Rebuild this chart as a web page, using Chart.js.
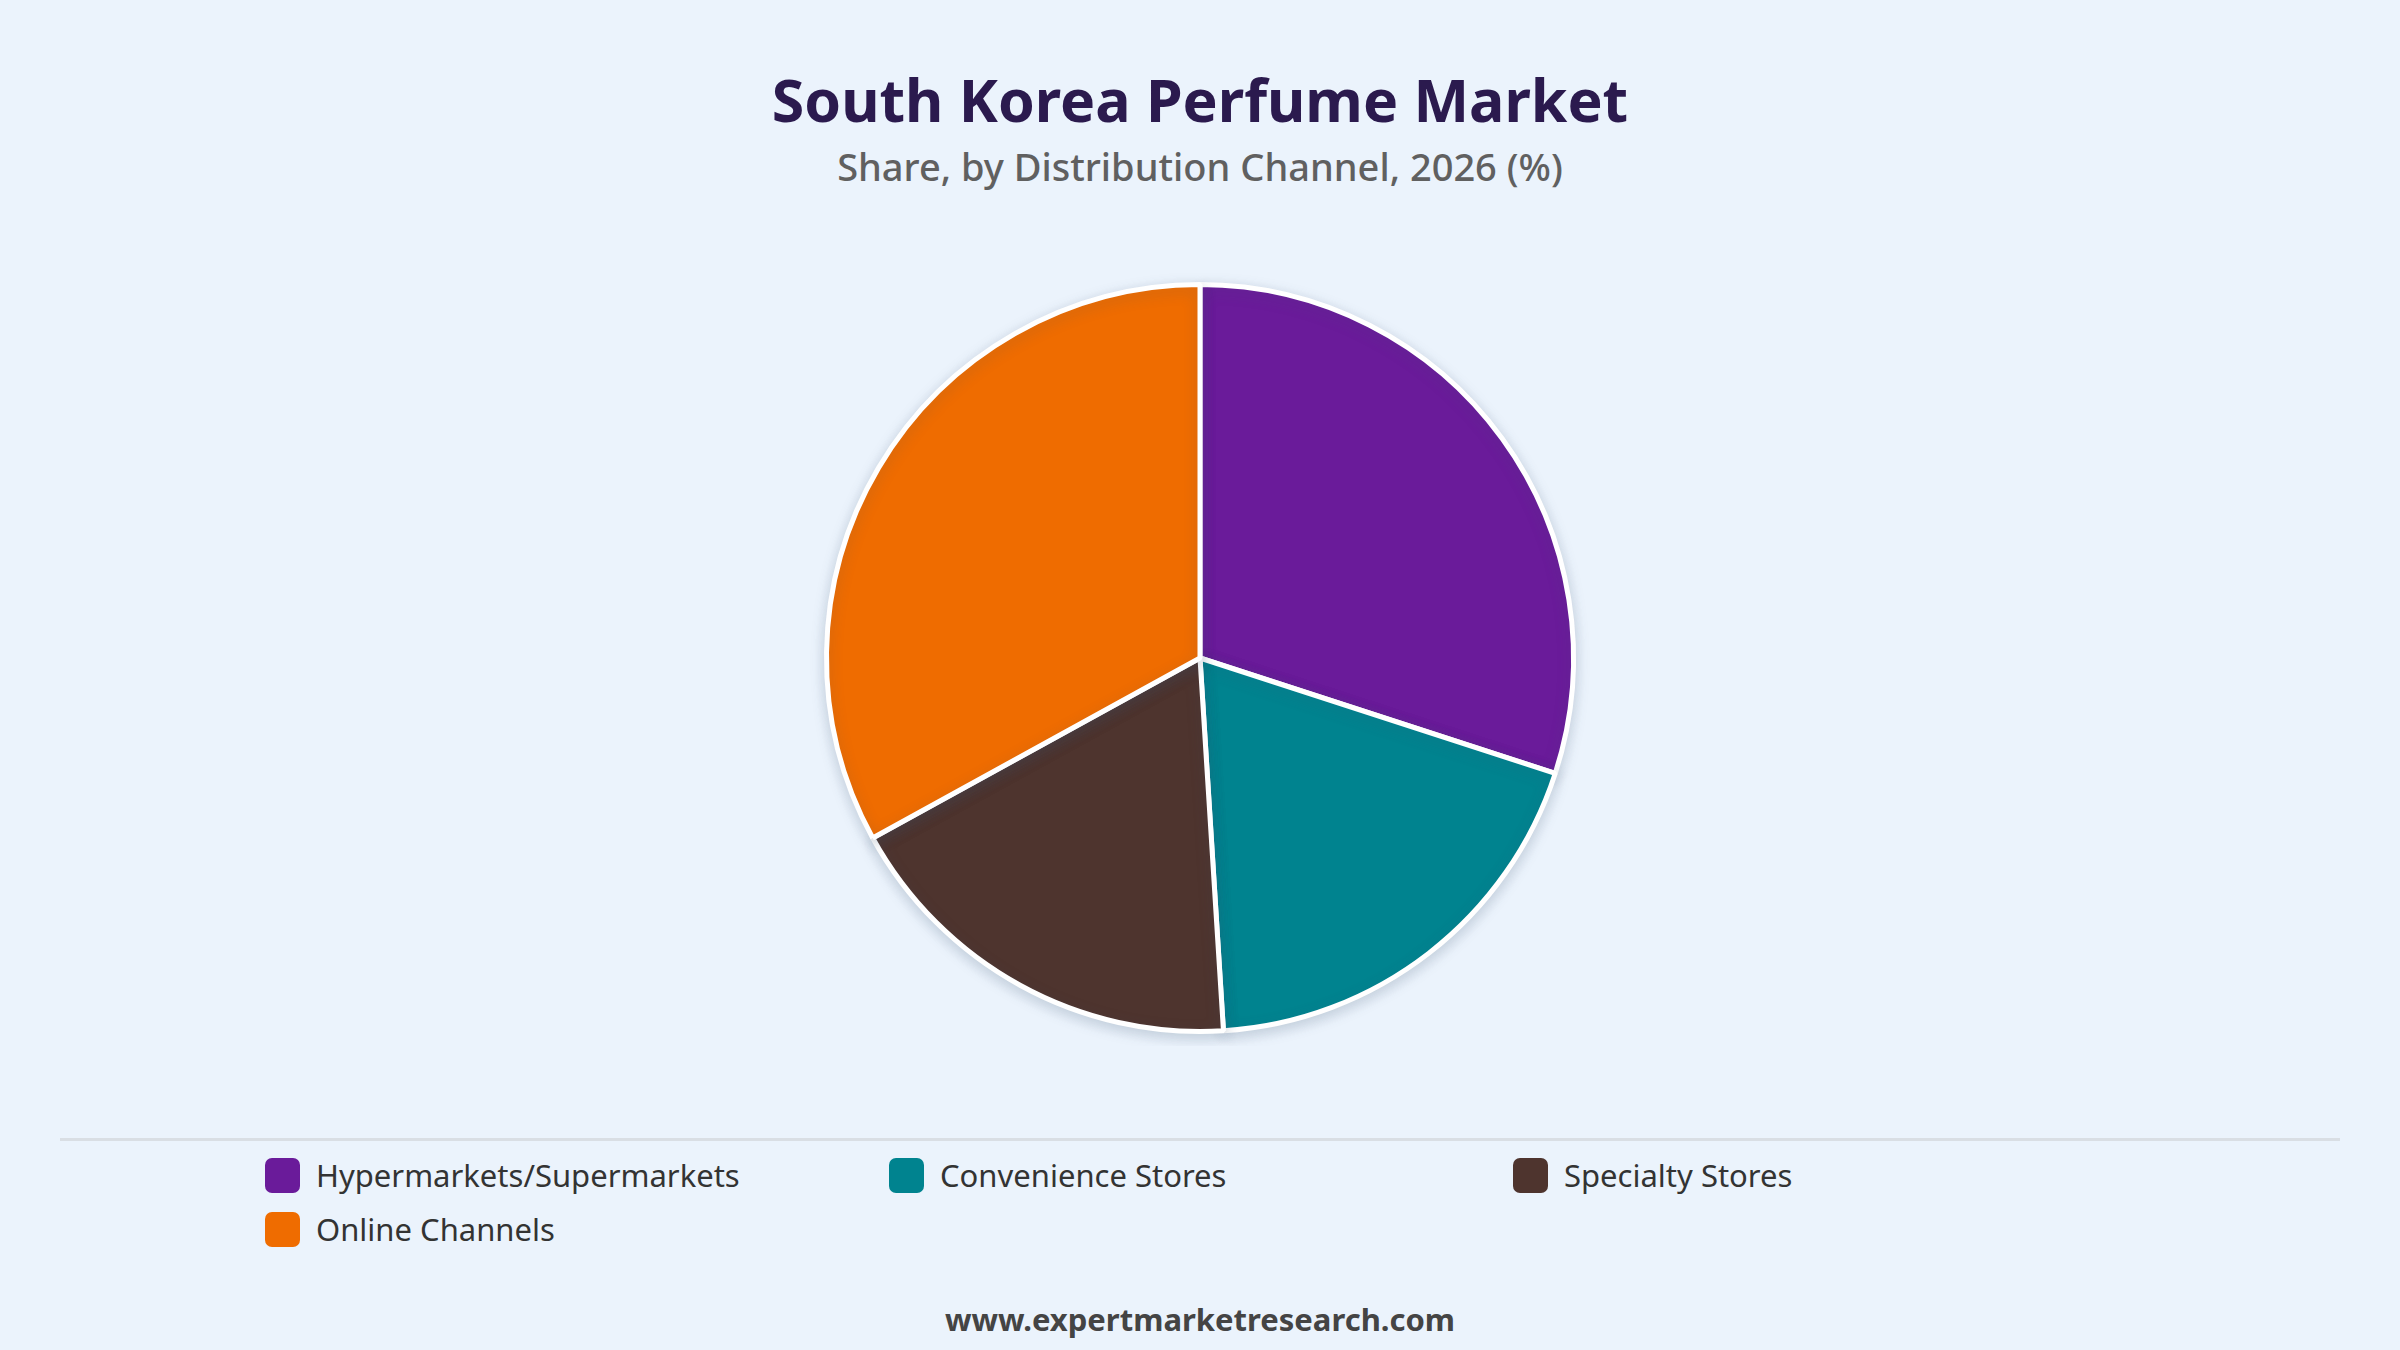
<!DOCTYPE html>
<html>
<head>
<meta charset="utf-8">
<script src="https://cdn.jsdelivr.net/npm/chart.js@4.4.1/dist/chart.umd.min.js"></script>
<style>
    html, body { margin: 0; padding: 0; }
    body {
        width: 2400px; height: 1350px; overflow: hidden;
        background: #EBF3FC;
        font-family: "Noto Sans", "Open Sans", sans-serif;
        position: relative;
    }
    #title {
        position: absolute; top: 60px; left: 0; width: 2400px;
        text-align: center; font-size: 59px; font-weight: 700; color: #2B1A4E;
        line-height: 78px;
    }
    #subtitle {
        position: absolute; top: 141px; left: 0; width: 2400px;
        text-align: center; font-size: 38px; font-weight: 500; color: #606060; line-height: 50px;
    }
    #chart-box {
        position: absolute; top: 270px; left: 600px; width: 1200px; height: 776px;
    }
    #divider {
        position: absolute; top: 1138px; left: 60px; width: 2280px; height: 3px;
        background: #D9DEE4;
    }
    #legend {
        position: absolute; top: 1156px; left: 265px;
        display: grid; grid-template-columns: 624px 624px 624px; row-gap: 16px;
    }
    .item { display: flex; align-items: center; height: 38px; font-size: 31px; color: #333333; }
    .swatch { width: 35px; height: 35px; border-radius: 7px; margin-right: 16px; }
    #footer {
        position: absolute; top: 1298px; left: 0; width: 2400px; text-align: center;
        font-size: 31px; font-weight: 700; color: #444444;
    }
</style>
</head>
<body>
<div id="title">South Korea Perfume Market</div>
<div id="subtitle">Share, by Distribution Channel, 2026 (%)</div>
<div id="chart-box"><canvas id="pie"></canvas></div>
<div id="divider"></div>
<div id="legend"></div>
<div id="footer">www.expertmarketresearch.com</div>

<script>
const channels = ['Hypermarkets/Supermarkets', 'Convenience Stores', 'Specialty Stores', 'Online Channels'];
const shares = [30, 19, 18, 33];
const sliceColors = ['#6A1B9A', '#00838F', '#4E342E', '#EF6C00'];

// soft shadow behind the pie
const pieShadow = {
    id: 'pieShadow',
    beforeDatasetsDraw(chart) {
        const ctx = chart.ctx;
        ctx.save();
        ctx.shadowColor = 'rgba(60, 80, 110, 0.22)';
        ctx.shadowBlur = 14;
        ctx.shadowOffsetY = 4;
    },
    afterDatasetsDraw(chart) {
        chart.ctx.restore();
    }
};

new Chart(document.getElementById('pie').getContext('2d'), {
    type: 'pie',
    data: {
        labels: channels,
        datasets: [{
            data: shares,
            backgroundColor: sliceColors,
            borderColor: '#FFFFFF',
            borderWidth: 5
        }]
    },
    options: {
        responsive: true,
        maintainAspectRatio: false,
        animation: false,
        layout: { padding: 12 },
        plugins: {
            legend: { display: false },
            tooltip: { enabled: false }
        }
    },
    plugins: [pieShadow]
});

// legend grid
const legend = document.getElementById('legend');
channels.forEach((name, i) => {
    const item = document.createElement('div');
    item.className = 'item';
    const sw = document.createElement('span');
    sw.className = 'swatch';
    sw.style.background = sliceColors[i];
    const txt = document.createElement('span');
    txt.textContent = name;
    item.appendChild(sw);
    item.appendChild(txt);
    legend.appendChild(item);
});
</script>
</body>
</html>
